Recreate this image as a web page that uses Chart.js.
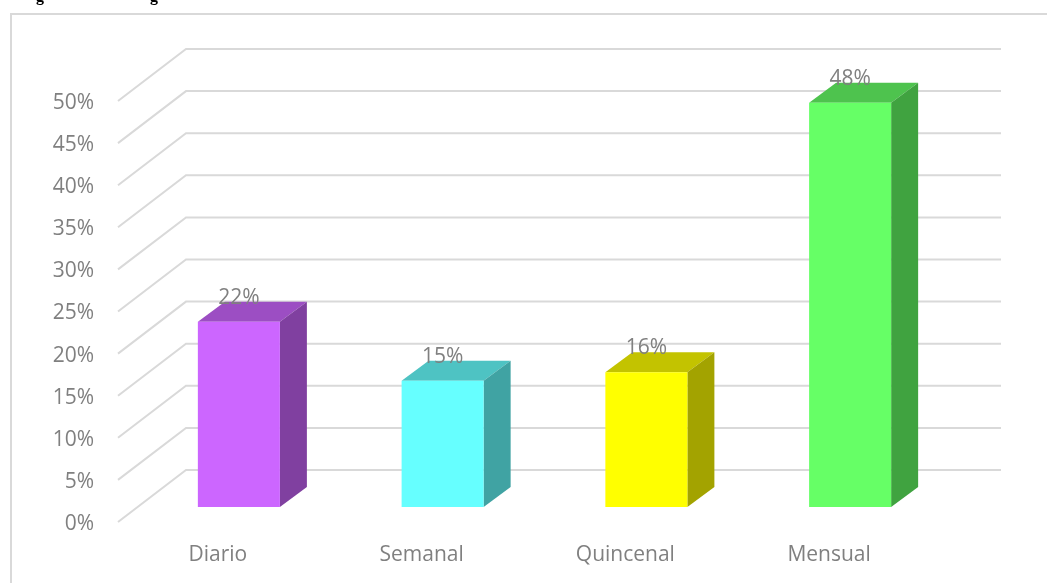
<!DOCTYPE html>
<html><head><meta charset="utf-8">
<style>html,body{margin:0;padding:0;background:#fff;overflow:hidden}
#w{position:absolute;left:0;top:0;width:1047px;height:583px}</style>
<script src="https://cdn.jsdelivr.net/npm/chart.js@4"></script></head>
<body><div id="w"><canvas id="c" width="1047" height="583"></canvas></div>
<script>
const categories=["Diario","Semanal","Quincenal","Mensual"];
const values=[22,15,16,48];
const frontColors=["#CC66FF","#66FFFF","#FFFF00","#66FF66"];
const topColors=["#9C4EC3","#4EC3C3","#C3C300","#4EC34E"];
const sideColors=["#8040A0","#40A3A3","#A3A300","#40A340"];
const yTicks=[0,5,10,15,20,25,30,35,40,45,50];
const GRID="#d9d9d9", TEXT="#808080";
const FONT='"Open Sans"';
const BAR_DX=27,BAR_DY=20,WALL_DX=68,WALL_UP=37,WALL_DOWN=15;

const threeD={
 id:'threeD',
 beforeDatasetsDraw(ch){
  const c=ch.ctx,y=ch.scales.y;
  c.save();
  c.strokeStyle=GRID;c.lineWidth=2;
  c.beginPath();c.moveTo(11,583);c.lineTo(11,14);c.lineTo(1047,14);c.stroke();
  yTicks.forEach(v=>{
   const p=y.getPixelForValue(v);
   c.beginPath();
   c.moveTo(118,p+WALL_DOWN);c.lineTo(186,p-WALL_UP);c.lineTo(1001,p-WALL_UP);
   c.stroke();
  });
  c.fillStyle='#000';c.font='bold 16px "Liberation Serif"';c.textAlign='left';c.textBaseline='alphabetic';
  c.fillText('g',36,1);c.fillText('g',150,1);
  const m=ch.getDatasetMeta(0);
  m.data.forEach((b,i)=>{
   const l=b.x-b.width/2,r=b.x+b.width/2,t=b.y,bt=b.base;
   c.fillStyle=topColors[i];
   c.beginPath();c.moveTo(l,t);c.lineTo(l+BAR_DX,t-BAR_DY);c.lineTo(r+BAR_DX,t-BAR_DY);c.lineTo(r,t);c.closePath();c.fill();
   c.fillStyle=sideColors[i];
   c.beginPath();c.moveTo(r,t);c.lineTo(r+BAR_DX,t-BAR_DY);c.lineTo(r+BAR_DX,bt-BAR_DY);c.lineTo(r,bt);c.closePath();c.fill();
  });
  c.restore();
 },
 afterDatasetsDraw(ch){
  const c=ch.ctx,m=ch.getDatasetMeta(0);
  c.save();
  c.fillStyle=TEXT;c.font='21px '+FONT;c.textAlign='center';c.textBaseline='middle';
  m.data.forEach((b,i)=>c.fillText(values[i]+'%',b.x,b.y-24));
  c.restore();
 }
};

new Chart(document.getElementById('c'),{
 type:'bar',
 data:{labels:categories,datasets:[{data:values,backgroundColor:frontColors,borderWidth:0,barPercentage:0.4026,categoryPercentage:1}]},
 options:{
  responsive:false,animation:false,
  layout:{padding:{top:86,right:95,left:0,bottom:0}},
  plugins:{legend:{display:false},title:{display:false},tooltip:{enabled:false}},
  scales:{
   x:{grid:{display:false},border:{display:false},
      afterFit(s){s.height=76;},
      ticks:{color:TEXT,font:{family:FONT,size:21},labelOffset:-21,maxRotation:0,padding:27}},
   y:{min:0,max:50,afterFit(s){s.width=137;},
      grid:{display:false},border:{display:false},
      afterBuildTicks(s){s.ticks=yTicks.map(v=>({value:v}));},
      ticks:{color:TEXT,font:{family:FONT,size:21},labelOffset:17,padding:35,callback:v=>v+'%'}}
  }
 },
 plugins:[threeD]
});
</script></body></html>
